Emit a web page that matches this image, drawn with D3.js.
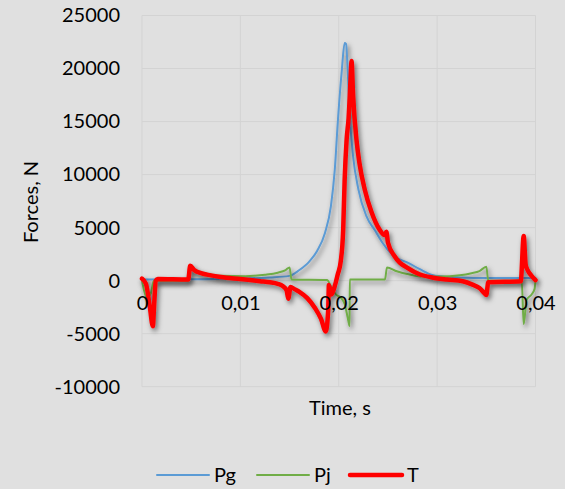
<!DOCTYPE html>
<html><head><meta charset="utf-8">
<script src="https://cdn.jsdelivr.net/npm/d3@7"></script>
<style>
html,body{margin:0;padding:0;background:#e0e0e0;}
svg{display:block;}
text{font-family:Lato,"Liberation Sans",sans-serif;fill:#000;}
</style></head>
<body>
<script>
// ---- data ----
const xTicks = [0, 0.01, 0.02, 0.03, 0.04];
const xTickLabels = ["0", "0,01", "0,02", "0,03", "0,04"];
const yTicks = [-10000, -5000, 0, 5000, 10000, 15000, 20000, 25000];
const yTickLabels = ["-10000", "-5000", "0", "5000", "10000", "15000", "20000", "25000"];
const seriesNames = ["Pg", "Pj", "T"];

const pgTime = [0, 0.005, 0.010, 0.013, 0.015, 0.016, 0.017, 0.0178, 0.0186, 0.0192, 0.0196, 0.0199, 0.0203, 0.0206, 0.02075, 0.0209, 0.0211, 0.02145, 0.022, 0.0228, 0.0237, 0.0245, 0.0255, 0.0262, 0.0269, 0.0282, 0.0296, 0.031, 0.0323, 0.035, 0.0385, 0.040];
const pgValues = [100, 120, 200, 300, 450, 1000, 1800, 2800, 4500, 7000, 10500, 14900, 19700, 22400, 22300, 20000, 15900, 11800, 8600, 6100, 4700, 3500, 2400, 2000, 1750, 1100, 500, 350, 300, 250, 250, 250];

const pjTime = [0, 0.0002, 0.0005, 0.0009, 0.0012, 0.0047, 0.0049, 0.0055, 0.0065, 0.008, 0.0105, 0.0125, 0.0138, 0.0146, 0.0150, 0.0152, 0.0188, 0.0193, 0.0197, 0.0202, 0.0206, 0.0208, 0.0210, 0.0211, 0.02112, 0.0247, 0.0249, 0.0259, 0.0272, 0.0285, 0.0303, 0.0323, 0.0335, 0.0343, 0.0350, 0.0352, 0.0386, 0.0388, 0.0391, 0.0396, 0.0399, 0.040];
const pjValues = [0, -900, -1600, -1200, 0, 0, 1200, 900, 650, 450, 420, 550, 750, 1000, 1250, 100, 50, -700, -1300, -1600, -2200, -3000, -3900, -4300, 100, 100, 1250, 880, 570, 380, 380, 500, 700, 900, 1300, 0, 0, -4100, -1800, -1300, -800, 0];

const tTime = [0, 0.0004, 0.0008, 0.0011, 0.00125, 0.0014, 0.0016, 0.0047, 0.0049, 0.0053, 0.006, 0.007, 0.008, 0.010, 0.012, 0.013, 0.0138, 0.0143, 0.0147, 0.01487, 0.0151, 0.0155, 0.016, 0.0168, 0.0176, 0.0182, 0.01868, 0.01893, 0.0190, 0.01926, 0.0196, 0.0199, 0.0202, 0.02045, 0.0206, 0.0208, 0.0210, 0.0212, 0.0213, 0.02146, 0.0218, 0.0221, 0.02264, 0.02332, 0.02416, 0.02465, 0.02484, 0.0250, 0.02568, 0.0262, 0.0269, 0.0282, 0.0296, 0.0310, 0.0326, 0.0336, 0.0343, 0.0348, 0.0350, 0.0352, 0.0385, 0.0388, 0.0390, 0.0392, 0.0396, 0.040];
const tValues = [200, -300, -2500, -4300, -2000, 0, 150, 100, 1400, 1000, 700, 500, 350, 150, -50, -150, -300, -500, -900, -1700, -600, -800, -1050, -1650, -2600, -3600, -4800, -2700, -400, -1300, -500, 600, 1800, 4800, 9500, 13300, 15300, 19000, 20700, 17400, 13300, 11100, 8600, 6500, 4800, 4300, 4600, 3600, 2300, 1700, 1250, 600, 280, 100, -60, -380, -700, -1170, -1350, -150, -60, 4200, 1500, 1000, 450, 50];

// ---- layout ----
const W = 565, H = 489;
const svg = d3.select("body").append("svg").attr("width", W).attr("height", H);
svg.append("rect").attr("width", W).attr("height", H).attr("fill", "#e0e0e0");

const defs = svg.append("defs");
const f = defs.append("filter").attr("id", "shadow").attr("x", "-20%").attr("y", "-20%").attr("width", "140%").attr("height", "140%");
f.append("feDropShadow").attr("dx", 2).attr("dy", 3).attr("stdDeviation", 2.5).attr("flood-color", "#000").attr("flood-opacity", 0.5);

const x = d3.scaleLinear().domain([0, 0.04]).range([142, 535.5]);
const y = d3.scaleLinear().domain([-10000, 25000]).range([386.7, 15.5]);

// gridlines
svg.append("g").selectAll("line.h").data(yTicks).join("line")
  .attr("x1", x(0)).attr("x2", x(0.04)).attr("y1", d => y(d)).attr("y2", d => y(d))
  .attr("stroke", "#d3d3d3").attr("stroke-width", 1);
svg.append("g").selectAll("line.v").data(xTicks).join("line")
  .attr("y1", y(25000)).attr("y2", y(-10000)).attr("x1", d => x(d)).attr("x2", d => x(d))
  .attr("stroke", "#d3d3d3").attr("stroke-width", 1);

// y axis labels
const yAxis = d3.axisLeft(y).tickValues(yTicks).tickFormat((d, i) => yTickLabels[i]).tickSize(0).tickPadding(0);
const gy = svg.append("g").attr("transform", "translate(120,0)").call(yAxis);
gy.select(".domain").remove();
gy.selectAll("text").attr("font-size", 20).attr("font-family", "Lato").attr("fill", "#000");

// series
const colors = {Pg: "#5b9bd5", Pj: "#70ad47", T: "#ff0000"};
const widths = {Pg: 2, Pj: 2, T: 4.5};
const series = [
  {name: "Pg", t: pgTime, v: pgValues},
  {name: "Pj", t: pjTime, v: pjValues},
  {name: "T", t: tTime, v: tValues}
];
const line = d3.line().x(d => x(d[0])).y(d => y(d[1])).curve(d3.curveMonotoneX);
series.forEach(s => {
  const pts = s.t.map((t, i) => [t, s.v[i]]);
  svg.append("path").datum(pts).attr("d", line)
    .attr("fill", "none").attr("stroke", colors[s.name]).attr("stroke-width", widths[s.name])
    .attr("stroke-linejoin", "round").attr("stroke-linecap", "round")
    .attr("filter", "url(#shadow)");
});

// x axis labels (crossing at 0)
const xAxis = d3.axisBottom(x).tickValues(xTicks).tickFormat((d, i) => xTickLabels[i]).tickSize(0).tickPadding(0);
const gx = svg.append("g").attr("transform", `translate(0,${y(0) + 15})`).call(xAxis);
gx.select(".domain").remove();
gx.selectAll("text").attr("font-size", 20).attr("font-family", "Lato").attr("fill", "#000");

// axis titles
svg.append("text").attr("transform", "translate(38,202) rotate(-90)").attr("text-anchor", "middle")
  .attr("font-size", 20).text("Forces, N");
svg.append("text").attr("x", 340).attr("y", 415).attr("text-anchor", "middle")
  .attr("font-size", 20).text("Time, s");

// legend
const legX = [157, 257, 350];
const lg = svg.append("g");
seriesNames.forEach((n, i) => {
  lg.append("line").attr("x1", legX[i]).attr("x2", legX[i] + 52).attr("y1", 475).attr("y2", 475)
    .attr("stroke", colors[n]).attr("stroke-width", widths[n]).attr("stroke-linecap", "round");
  lg.append("text").attr("x", legX[i] + 57).attr("y", 482).attr("font-size", 20).text(n);
});
</script>
</body></html>
